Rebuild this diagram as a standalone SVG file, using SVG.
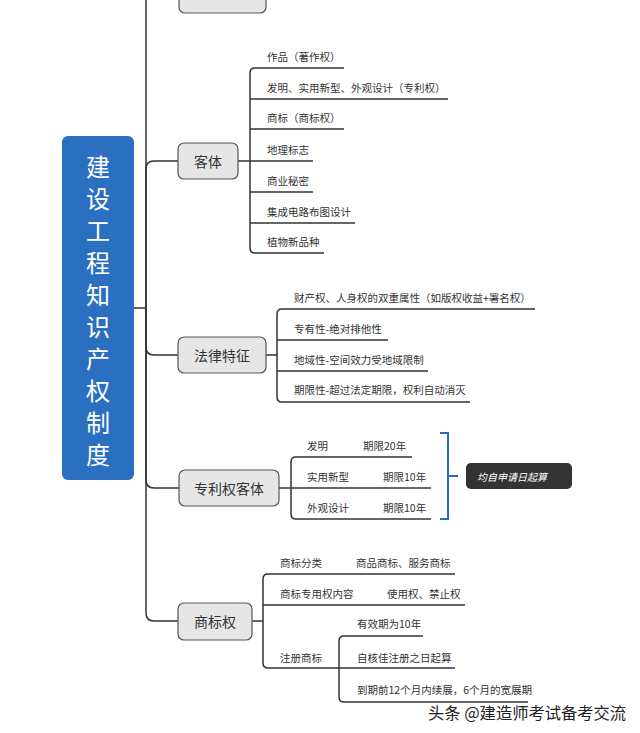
<svg xmlns="http://www.w3.org/2000/svg" width="640" height="733" viewBox="0 0 640 733">
<style>
.ln{fill:none;stroke:#333;stroke-width:1.5}
.nd{fill:#e6e6e6;stroke:#555;stroke-width:1.2}
.nt{font-family:"Noto Sans CJK SC","Liberation Sans",sans-serif;font-size:14px;fill:#333;text-anchor:middle;dominant-baseline:central}
.ct{font-family:"Noto Sans CJK SC","Liberation Sans",sans-serif;font-size:10.5px;fill:#333;dominant-baseline:central}
.rt{font-family:"Noto Sans CJK SC","Liberation Sans",sans-serif;font-size:24px;fill:#fff;text-anchor:middle;dominant-baseline:central}
</style>
<rect width="640" height="733" fill="#fff"/>
<g id="connectors">
<path class="ln" d="M134,308 H146 M146,308 V0"/>
<path class="ln" d="M146,308 V169 Q146,161 154,161 H178"/>
<path class="ln" d="M146,308 V347 Q146,355 154,355 H178"/>
<path class="ln" d="M146,308 V480 Q146,488 154,488 H179"/>
<path class="ln" d="M146,308 V613 Q146,621 154,621 H178"/>
<path class="ln" d="M344,68 H255 Q250,68 250,73 V248 Q250,253 255,253 H324"/>
<path class="ln" d="M250,99 H448 M250,129 H344 M238,161 H313 M250,192 H313 M250,223 H355"/>
<path class="ln" d="M535,309 H282 Q277,309 277,314 V397 Q277,402 282,402 H470"/>
<path class="ln" d="M266,355 H277 M277,340 H388 M277,371 H428"/>
<path class="ln" d="M412,457 H296 Q291,457 291,462 V514 Q291,519 296,519 H431"/>
<path class="ln" d="M279,488 H431"/>
<path class="ln" d="M455,574 H268 Q263,574 263,579 V663 Q263,668 268,668 H455"/>
<path class="ln" d="M252,621 H263 M263,605 H465"/>
<path class="ln" d="M423,636 H344 Q339,636 339,641 V697 Q339,702 344,702 H528"/>
<path d="M440,433 H448 V519 H440 M448,476 H458" fill="none" stroke="#2b6cb8" stroke-width="2"/>
</g>
<g id="root">
<rect x="62" y="136" width="72" height="344" rx="6" fill="#2a6fc0"/>
<text class="rt" x="98" y="165">建</text>
<text class="rt" x="98" y="197">设</text>
<text class="rt" x="98" y="229">工</text>
<text class="rt" x="98" y="261">程</text>
<text class="rt" x="98" y="293">知</text>
<text class="rt" x="98" y="325">识</text>
<text class="rt" x="98" y="357">产</text>
<text class="rt" x="98" y="389">权</text>
<text class="rt" x="98" y="421">制</text>
<text class="rt" x="98" y="453">度</text>
</g>
<g id="node-top">
<rect class="nd" x="179" y="-24" width="87" height="37" rx="6"/>
</g>
<g id="node-keti">
<rect class="nd" x="178" y="143" width="60" height="36" rx="6"/>
<text class="nt" x="208" y="161">客体</text>
<text class="ct" x="267" y="56">作品（著作权）</text>
<text class="ct" x="267" y="87">发明、实用新型、外观设计（专利权）</text>
<text class="ct" x="267" y="117">商标（商标权）</text>
<text class="ct" x="267" y="149">地理标志</text>
<text class="ct" x="267" y="180">商业秘密</text>
<text class="ct" x="267" y="211">集成电路布图设计</text>
<text class="ct" x="267" y="241">植物新品种</text>
</g>
<g id="node-falv">
<rect class="nd" x="178" y="337" width="88" height="36" rx="6"/>
<text class="nt" x="222" y="355">法律特征</text>
<text class="ct" x="294" y="297">财产权、人身权的双重属性（如版权收益+署名权）</text>
<text class="ct" x="294" y="328">专有性-绝对排他性</text>
<text class="ct" x="294" y="359">地域性-空间效力受地域限制</text>
<text class="ct" x="294" y="389">期限性-超过法定期限，权利自动消灭</text>
</g>
<g id="node-zhuanli">
<rect class="nd" x="179" y="470" width="100" height="36" rx="6"/>
<text class="nt" x="229" y="488">专利权客体</text>
<text class="ct" x="307" y="445">发明</text>
<text class="ct" x="363" y="445">期限20年</text>
<text class="ct" x="307" y="476">实用新型</text>
<text class="ct" x="383" y="476">期限10年</text>
<text class="ct" x="307" y="507">外观设计</text>
<text class="ct" x="383" y="507">期限10年</text>
</g>
<g id="node-note">
<rect x="466" y="463" width="106" height="26" rx="5" fill="#333"/>
<text x="477" y="476" font-family="Noto Sans CJK SC,Liberation Sans,sans-serif" font-size="10px" font-style="italic" fill="#fff" dominant-baseline="central">均自申请日起算</text>
</g>
<g id="node-shangbiao">
<rect class="nd" x="178" y="603" width="74" height="37" rx="6"/>
<text class="nt" x="215" y="621">商标权</text>
<text class="ct" x="280" y="562">商标分类</text>
<text class="ct" x="356" y="562">商品商标、服务商标</text>
<text class="ct" x="280" y="593">商标专用权内容</text>
<text class="ct" x="387" y="593">使用权、禁止权</text>
<text class="ct" x="280" y="657">注册商标</text>
<text class="ct" x="357" y="623">有效期为10年</text>
<text class="ct" x="357" y="657">自核佳注册之日起算</text>
<text class="ct" x="357" y="689">到期前12个月内续展，6个月的宽展期</text>
</g>
<g id="watermark">
<text x="428" y="712" font-family="Noto Sans CJK SC,Liberation Sans,sans-serif" font-size="16.3px" fill="#222" dominant-baseline="central">头条 @建造师考试备考交流</text>
</g>
</svg>
